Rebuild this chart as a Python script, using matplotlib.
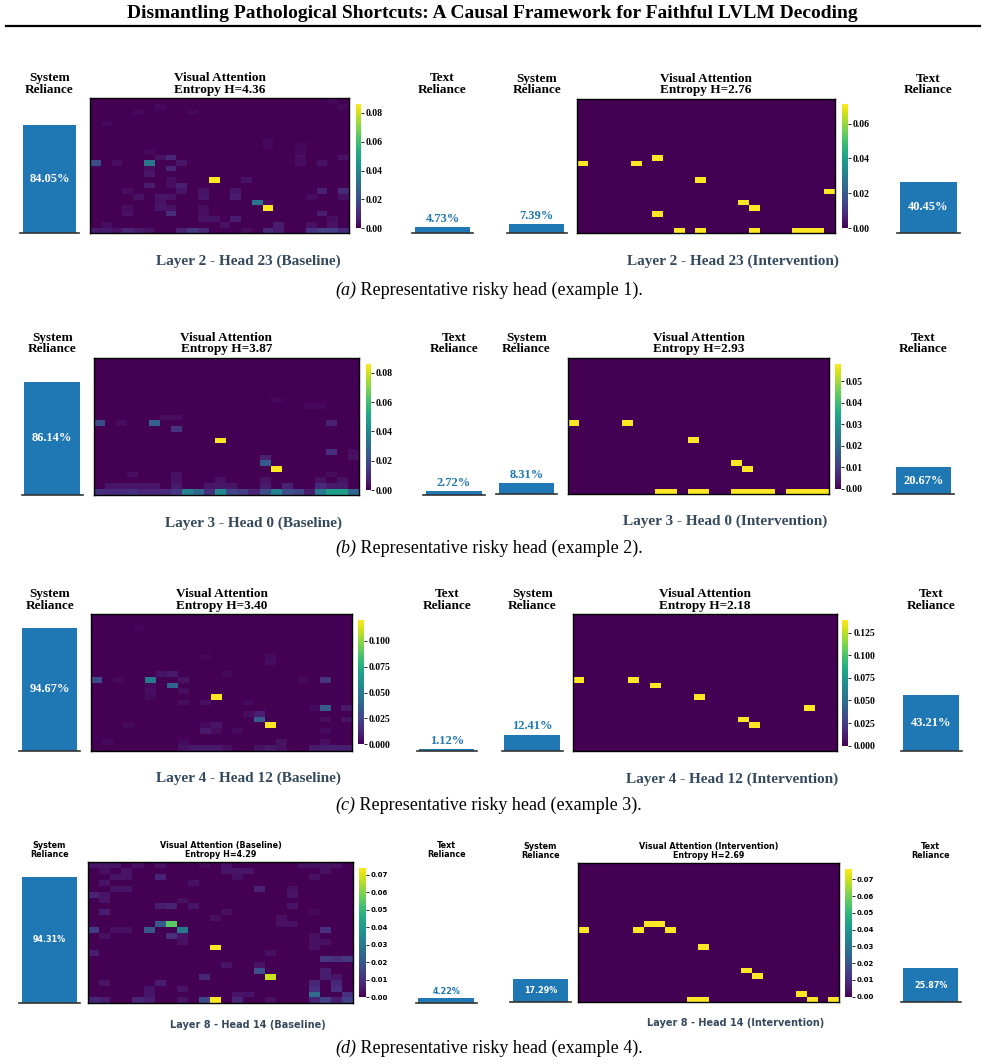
import numpy as np
import matplotlib.pyplot as plt
from matplotlib.lines import Line2D
from matplotlib.ticker import MultipleLocator, FormatStrFormatter

# ---- data ----
heads = ["Layer 2 - Head 23", "Layer 3 - Head 0", "Layer 4 - Head 12", "Layer 8 - Head 14"]
sys_base = [84.05, 86.14, 94.67, 94.31]
txt_base = [4.73, 2.72, 1.12, 4.22]
sys_int = [7.39, 8.31, 12.41, 17.29]
txt_int = [40.45, 20.67, 43.21, 25.87]
ent_base = [4.36, 3.87, 3.40, 4.29]
ent_int = [2.76, 2.93, 2.18, 2.69]

# attention cells (row, col, value) on a 24x24 grid, everything else ~0
attn_base_1 = [
    (0, 22, 0.002), (1, 6, 0.002), (1, 23, 0.002), (2, 4, 0.002), (2, 9, 0.002), (4, 1, 0.002),
    (7, 16, 0.002), (8, 16, 0.002), (8, 19, 0.002), (9, 5, 0.002), (9, 19, 0.002),
    (10, 6, 0.004), (10, 7, 0.009), (10, 19, 0.003), (10, 23, 0.004),
    (11, 0, 0.020), (11, 2, 0.003), (11, 5, 0.033), (11, 8, 0.005), (11, 19, 0.003), (11, 21, 0.004),
    (12, 5, 0.003), (12, 7, 0.009), (13, 5, 0.005),
    (14, 11, 0.086), (14, 7, 0.003), (14, 14, 0.004),
    (15, 5, 0.007), (15, 7, 0.003), (15, 8, 0.008),
    (16, 3, 0.003), (16, 8, 0.005), (16, 10, 0.004), (16, 13, 0.005), (16, 21, 0.008), (16, 23, 0.010),
    (17, 4, 0.004), (17, 6, 0.005), (17, 7, 0.004), (17, 10, 0.005), (17, 13, 0.007), (17, 20, 0.003), (17, 23, 0.004),
    (18, 6, 0.004), (18, 15, 0.033), (18, 16, 0.003),
    (19, 3, 0.003), (19, 6, 0.005), (19, 7, 0.004), (19, 10, 0.003), (19, 16, 0.086),
    (20, 3, 0.004), (20, 7, 0.011), (20, 10, 0.003), (20, 21, 0.007),
    (21, 10, 0.004), (21, 11, 0.004), (21, 13, 0.007), (21, 22, 0.003),
    (22, 1, 0.003), (22, 12, 0.004), (22, 17, 0.007), (22, 20, 0.004), (22, 22, 0.004),
    (23, 0, 0.006), (23, 1, 0.006), (23, 2, 0.004), (23, 3, 0.009), (23, 4, 0.006), (23, 5, 0.004),
    (23, 8, 0.008), (23, 9, 0.014), (23, 10, 0.010), (23, 14, 0.003), (23, 16, 0.010), (23, 17, 0.006),
    (23, 20, 0.012), (23, 21, 0.016), (23, 22, 0.016), (23, 23, 0.010),
]
attn_base_2 = [
    (7, 16, 0.002), (8, 19, 0.002), (8, 20, 0.002), (10, 6, 0.003), (10, 7, 0.003),
    (11, 0, 0.020), (11, 2, 0.003), (11, 5, 0.026), (11, 21, 0.008),
    (12, 7, 0.013), (14, 11, 0.086), (16, 21, 0.012), (16, 23, 0.003),
    (17, 15, 0.008), (17, 23, 0.004), (18, 15, 0.024), (19, 16, 0.086),
    (20, 3, 0.003), (20, 7, 0.004), (20, 21, 0.003),
    (21, 7, 0.004), (21, 11, 0.004), (21, 15, 0.004), (21, 20, 0.004), (21, 22, 0.004),
    (22, 1, 0.005), (22, 2, 0.005), (22, 3, 0.005), (22, 4, 0.005), (22, 5, 0.005), (22, 7, 0.006),
    (22, 10, 0.005), (22, 11, 0.005), (22, 12, 0.005), (22, 15, 0.006), (22, 17, 0.008),
    (22, 20, 0.010), (22, 21, 0.006), (22, 22, 0.006),
    (23, 0, 0.012), (23, 1, 0.010), (23, 2, 0.010), (23, 3, 0.012), (23, 4, 0.009), (23, 5, 0.009),
    (23, 6, 0.010), (23, 7, 0.014), (23, 8, 0.038), (23, 9, 0.028), (23, 10, 0.012), (23, 11, 0.040),
    (23, 12, 0.018), (23, 13, 0.016), (23, 14, 0.009), (23, 15, 0.020), (23, 16, 0.038), (23, 17, 0.020),
    (23, 18, 0.018), (23, 19, 0.007), (23, 20, 0.034), (23, 21, 0.048), (23, 22, 0.048), (23, 23, 0.028),
]
attn_base_3 = [
    (2, 4, 0.002), (7, 10, 0.002), (7, 16, 0.003), (8, 16, 0.004),
    (10, 6, 0.006), (10, 7, 0.008), (10, 12, 0.003),
    (11, 0, 0.028), (11, 2, 0.003), (11, 5, 0.048), (11, 8, 0.006), (11, 19, 0.003), (11, 21, 0.018),
    (12, 5, 0.003), (12, 7, 0.038), (13, 5, 0.004), (13, 8, 0.004),
    (14, 5, 0.003), (14, 11, 0.120), (15, 8, 0.004), (15, 10, 0.004), (15, 14, 0.003),
    (16, 20, 0.003), (16, 21, 0.033), (16, 23, 0.008),
    (17, 14, 0.004), (17, 15, 0.010), (18, 15, 0.033), (18, 21, 0.004), (18, 23, 0.006),
    (19, 3, 0.003), (19, 10, 0.003), (19, 11, 0.006), (19, 16, 0.120),
    (20, 10, 0.008), (20, 11, 0.004), (20, 13, 0.003), (20, 21, 0.003),
    (22, 1, 0.003), (22, 8, 0.003), (22, 17, 0.006), (22, 21, 0.004),
    (23, 8, 0.006), (23, 9, 0.008), (23, 10, 0.008), (23, 11, 0.008), (23, 12, 0.005),
    (23, 15, 0.006), (23, 16, 0.008), (23, 17, 0.005), (23, 20, 0.008), (23, 21, 0.010),
    (23, 22, 0.010), (23, 23, 0.010),
]
attn_base_4 = [
    (0, 0, 0.004), (0, 1, 0.004), (0, 2, 0.004), (0, 4, 0.003), (0, 6, 0.003), (0, 10, 0.002),
    (0, 12, 0.003), (0, 19, 0.003), (0, 20, 0.003), (0, 21, 0.003), (0, 22, 0.003),
    (1, 1, 0.003), (1, 3, 0.004), (1, 12, 0.004), (1, 13, 0.004), (1, 14, 0.004), (1, 21, 0.003),
    (2, 2, 0.004), (2, 3, 0.004), (2, 6, 0.007), (2, 13, 0.003), (2, 20, 0.003),
    (3, 1, 0.004), (3, 9, 0.003), (4, 2, 0.004), (4, 3, 0.004), (4, 15, 0.007), (4, 18, 0.003),
    (5, 0, 0.007), (5, 1, 0.004), (5, 18, 0.004), (6, 1, 0.004), (6, 8, 0.003),
    (7, 6, 0.006), (7, 7, 0.007), (7, 9, 0.004), (7, 18, 0.004),
    (8, 1, 0.006), (8, 12, 0.003), (8, 20, 0.002), (9, 11, 0.003), (9, 17, 0.003),
    (10, 6, 0.020), (10, 7, 0.055), (10, 17, 0.003), (10, 18, 0.003),
    (11, 0, 0.013), (11, 2, 0.003), (11, 3, 0.003), (11, 5, 0.020), (11, 8, 0.030), (11, 21, 0.010),
    (12, 1, 0.003), (12, 7, 0.010), (12, 8, 0.004), (12, 20, 0.003),
    (13, 8, 0.003), (13, 20, 0.003), (13, 21, 0.003), (14, 11, 0.074), (14, 20, 0.003),
    (15, 0, 0.006), (15, 16, 0.003), (16, 21, 0.012), (16, 22, 0.010), (16, 23, 0.012),
    (17, 12, 0.004), (17, 15, 0.004), (18, 15, 0.018), (18, 21, 0.006),
    (19, 10, 0.008), (19, 16, 0.068), (19, 21, 0.006), (19, 22, 0.004),
    (20, 1, 0.004), (20, 6, 0.006), (20, 20, 0.008), (20, 22, 0.008),
    (21, 5, 0.004), (21, 8, 0.004), (21, 20, 0.010), (21, 22, 0.010),
    (22, 5, 0.004), (22, 13, 0.004), (22, 14, 0.004), (22, 20, 0.026), (22, 23, 0.010),
    (23, 0, 0.008), (23, 1, 0.006), (23, 4, 0.008), (23, 5, 0.006), (23, 8, 0.004), (23, 10, 0.016),
    (23, 11, 0.074), (23, 13, 0.008), (23, 16, 0.003), (23, 20, 0.008), (23, 21, 0.014),
    (23, 22, 0.006), (23, 23, 0.014),
]
attn_int_1 = [
    (10, 7, 0.071), (11, 0, 0.071), (11, 5, 0.071), (14, 11, 0.071), (16, 23, 0.071),
    (18, 15, 0.071), (19, 16, 0.071), (20, 7, 0.071), (23, 9, 0.071), (23, 11, 0.071),
    (23, 16, 0.071), (23, 20, 0.071), (23, 21, 0.071), (23, 22, 0.071),
]
attn_int_2 = [
    (11, 0, 0.058), (11, 5, 0.058), (14, 11, 0.058), (18, 15, 0.058), (19, 16, 0.058),
    (23, 8, 0.058), (23, 9, 0.058), (23, 11, 0.058), (23, 12, 0.058), (23, 15, 0.058),
    (23, 16, 0.058), (23, 17, 0.058), (23, 18, 0.058), (23, 20, 0.058), (23, 21, 0.058),
    (23, 22, 0.058), (23, 23, 0.058),
]
attn_int_3 = [
    (11, 0, 0.139), (11, 5, 0.139), (12, 7, 0.139), (14, 11, 0.139), (16, 21, 0.139),
    (18, 15, 0.139), (19, 16, 0.139),
]
attn_int_4 = [
    (10, 6, 0.076), (10, 7, 0.076), (11, 0, 0.076), (11, 5, 0.076), (11, 8, 0.076),
    (14, 11, 0.076), (18, 15, 0.076), (19, 16, 0.076), (22, 20, 0.076), (23, 10, 0.076),
    (23, 11, 0.076), (23, 21, 0.076), (23, 23, 0.076),
]
attn_base = [attn_base_1, attn_base_2, attn_base_3, attn_base_4]
attn_int = [attn_int_1, attn_int_2, attn_int_3, attn_int_4]
cbar_step_base = [0.02, 0.02, 0.025, 0.01]
cbar_step_int = [0.02, 0.01, 0.025, 0.01]

# ---- layout in pixels ----
W, H = 985, 1064
layout = [
    # sys x0,x1 | hm x0,x1,y0,y1 | cb x0,x1,y0,y1 | txt x0,x1 | subtitle x,y
    [(20, 79), (90, 349, 98.3, 233.3), (356, 361, 104.3, 228.3), (412, 473), (248, 261)],
    [(506.7, 566.7), (577.3, 835, 99, 233.3), (842.3, 847.7, 104.3, 228.3), (896.7, 960), (733, 261)],
    [(21.7, 82.7), (93.7, 359, 357.7, 494.5), (365.7, 371, 364, 490), (423, 485), (253, 523)],
    [(496, 556.7), (567.7, 829.3, 357.7, 494.3), (835, 840.7, 364, 489), (893, 954), (725.5, 521.5)],
    [(19.3, 80), (90.7, 352.3, 614.3, 750.7), (358.3, 363.7, 620, 744.3), (416.7, 476.7), (248.3, 778)],
    [(501.7, 562.7), (573.3, 836.7, 614.3, 750.7), (842.3, 848.3, 620, 745.7), (900.7, 961.7), (732, 779)],
    [(19, 80), (88.3, 353.3, 862.3, 1003.3), (359, 365.7, 867.7, 997.3), (415.7, 476.7), (247.5, 1024.5)],
    [(510, 570.7), (578.3, 839.3, 863.3, 1002.3), (845, 851.7, 869.3, 996.7), (900.7, 961), (735.3, 1022.5)],
]
caption_y = [295, 553, 810, 1053]
tags = ["(a)", "(b)", "(c)", "(d)"]

BLUE = "#1f77b4"
SLATE = "#34495e"
plt.rcParams['font.weight'] = 'bold'
plt.rcParams['axes.titleweight'] = 'bold'

fig = plt.figure(figsize=(W / 100, H / 100), dpi=100)


def px_axes(x0, x1, y0, y1):
    return fig.add_axes([x0 / W, 1 - y1 / H, (x1 - x0) / W, (y1 - y0) / H])


def rel_bar(ax, val, title, fam, tsize, lsize):
    ax.bar([0], [val], width=0.8, color=BLUE)
    ax.set_xlim(-0.44, 0.44)
    ax.set_ylim(0, 105)
    for s in ['top', 'right', 'left']:
        ax.spines[s].set_visible(False)
    ax.spines['bottom'].set_color('#333333')
    ax.spines['bottom'].set_linewidth(1.2)
    ax.set_xticks([])
    ax.set_yticks([])
    ax.set_title(title, fontfamily=fam, fontsize=tsize, pad=4, linespacing=0.95)
    if val >= 15:
        ax.text(0, val / 2, f'{val:.2f}%', color='white', ha='center', va='center',
                fontfamily=fam, fontsize=lsize)
    else:
        ax.annotate(f'{val:.2f}%', (0, val), xytext=(0, 1.5), textcoords='offset points',
                    ha='center', va='bottom', color=BLUE, fontfamily=fam, fontsize=lsize)


def draw_head(lay, cells, sysv, txtv, hm_title, sub, step, serif):
    if serif:
        fam, tsize, lsize, csize, ssize = 'Liberation Serif', 9.5, 9, 7, 11
    else:
        fam, tsize, lsize, csize, ssize = 'DejaVu Sans', 5.8, 5.8, 5, 7
    (sx0, sx1), (hx0, hx1, hy0, hy1), (cx0, cx1, cy0, cy1), (tx0, tx1), (subx, suby) = lay

    grid = np.zeros((24, 24))
    for r, c, v in cells:
        grid[r, c] = v

    ax_s = px_axes(sx0, sx1, hy0, hy1)
    rel_bar(ax_s, sysv, 'System\nReliance', fam, tsize, lsize)

    ax_h = px_axes(hx0, hx1, hy0, hy1)
    im = ax_h.pcolormesh(grid, cmap='viridis', vmin=0, vmax=grid.max())
    ax_h.set_xlim(0, 24)
    ax_h.set_ylim(24, 0)
    ax_h.set_xticks([])
    ax_h.set_yticks([])
    for s in ax_h.spines.values():
        s.set_color('black')
        s.set_linewidth(1.0)
    ax_h.set_title(hm_title, fontfamily=fam, fontsize=tsize, pad=4, linespacing=0.95)

    cax = px_axes(cx0, cx1, cy0, cy1)
    cb = fig.colorbar(im, cax=cax)
    cb.outline.set_visible(False)
    cax.yaxis.set_major_locator(MultipleLocator(step))
    cax.yaxis.set_major_formatter(FormatStrFormatter('%.3f' if step == 0.025 else '%.2f'))
    cax.tick_params(labelsize=csize, length=2.5, width=0.6, pad=1, labelfontfamily=fam)

    ax_t = px_axes(tx0, tx1, hy0, hy1)
    rel_bar(ax_t, txtv, 'Text\nReliance', fam, tsize, lsize)

    fig.text(subx / W, 1 - suby / H, sub, ha='center', va='center', color=SLATE,
             fontfamily=fam, fontsize=ssize)


for i in range(4):
    serif = i < 3
    if serif:
        tb = f'Visual Attention\nEntropy H={ent_base[i]:.2f}'
        ti = f'Visual Attention\nEntropy H={ent_int[i]:.2f}'
    else:
        tb = f'Visual Attention (Baseline)\nEntropy H={ent_base[i]:.2f}'
        ti = f'Visual Attention (Intervention)\nEntropy H={ent_int[i]:.2f}'
    draw_head(layout[2 * i], attn_base[i], sys_base[i], txt_base[i], tb,
              f'{heads[i]} (Baseline)', cbar_step_base[i], serif)
    draw_head(layout[2 * i + 1], attn_int[i], sys_int[i], txt_int[i], ti,
              f'{heads[i]} (Intervention)', cbar_step_int[i], serif)

# header
fig.text(0.5, 1 - 13 / H, 'Dismantling Pathological Shortcuts: A Causal Framework for Faithful LVLM Decoding',
         ha='center', va='center', fontfamily='Liberation Serif', fontsize=14, fontweight='bold')
fig.add_artist(Line2D([6 / W, 980 / W], [1 - 25.5 / H] * 2, color='black', lw=1.6))

# captions
renderer = fig.canvas.get_renderer()
for i in range(4):
    y = 1 - caption_y[i] / H
    t1 = fig.text(335 / W, y, tags[i], fontfamily='Liberation Serif', fontstyle='italic',
                  fontweight='normal', fontsize=13, va='baseline')
    bb = t1.get_window_extent(renderer)
    fig.text(bb.x1 / W, y, f' Representative risky head (example {i + 1}).',
             fontfamily='Liberation Serif', fontweight='normal', fontsize=13, va='baseline')

fig.savefig('out.png', dpi=100)
